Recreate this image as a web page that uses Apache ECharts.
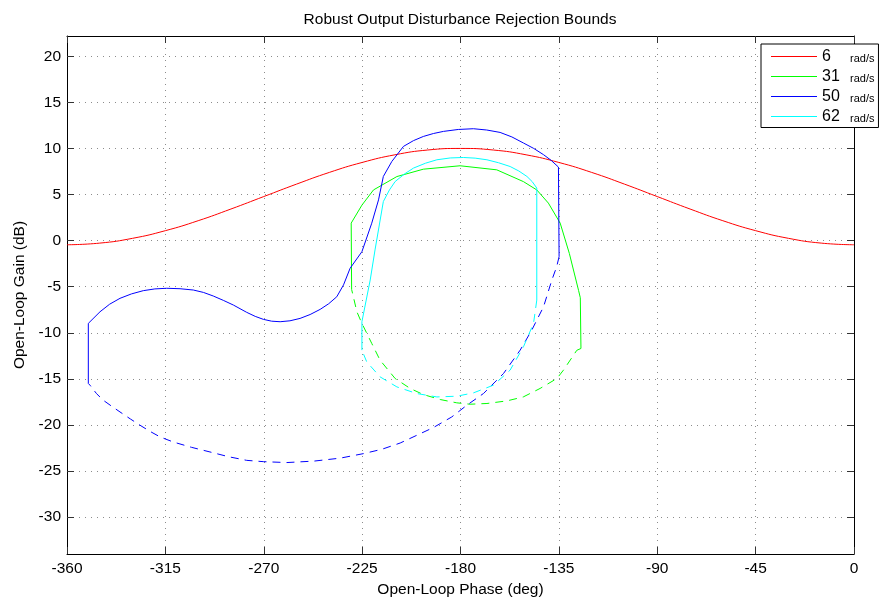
<!DOCTYPE html>
<html>
<head>
<meta charset="utf-8">
<script src="https://cdn.jsdelivr.net/npm/echarts@6/dist/echarts.min.js"></script>
<style>html,body{margin:0;padding:0;background:#fff;}#c{width:880px;height:598px;}</style>
</head>
<body>
<div id="c"></div>
<script>
// ---- data ----
const legendNames = ['6', '31', '50', '62'];
const xTicks = [-360, -315, -270, -225, -180, -135, -90, -45, 0];
const yTicks = [-30, -25, -20, -15, -10, -5, 0, 5, 10, 15, 20];

// 6 rad/s bound (phase, gain)
const red6 = [[-360,-0.45],[-345,-0.27],[-330,0.25],[-315,1.08],[-300,2.16],[-285,3.43],[-270,4.78],[-255,6.13],[-240,7.40],[-225,8.48],[-210,9.31],[-195,9.83],[-180,10.0],[-165,9.83],[-150,9.31],[-135,8.48],[-120,7.40],[-105,6.13],[-90,4.78],[-75,3.43],[-60,2.16],[-45,1.08],[-30,0.25],[-15,-0.27],[0,-0.45]];

// 31 rad/s bound
const green31Solid = [[-229.8,-5.3],[-230.0,1.9],[-225.1,3.85],[-219.8,5.5],[-209.1,6.95],[-197,7.75],[-180.2,8.12],[-163.4,7.68],[-151.2,6.4],[-145.1,5.5],[-139.8,4.07],[-134.4,1.9],[-130.2,-1.4],[-126,-5.4],[-125.2,-6.2],[-124.9,-11.7]];
const green31Dash = [[-124.9,-11.7],[-126.8,-11.9],[-132.9,-14.05],[-135.9,-14.96],[-143.6,-16.04],[-151.3,-16.96],[-158.8,-17.39],[-167.9,-17.67],[-175.6,-17.75],[-181.7,-17.6],[-189.3,-17.24],[-197,-16.7],[-203,-16.04],[-209.9,-14.96],[-216.8,-12.97],[-220.6,-11.15],[-225.1,-8.98],[-227.4,-7.72],[-229.8,-5.3]];

// 50 rad/s bound
const blue50Solid = [[-350.25,-15.5],[-350.25,-8.98],[-344.9,-7.72],[-340.5,-6.9],[-335.75,-6.26],[-330.5,-5.78],[-325.1,-5.43],[-319.8,-5.24],[-314.4,-5.17],[-308.3,-5.22],[-302.2,-5.36],[-297.6,-5.62],[-293.1,-6.01],[-288.5,-6.48],[-283.9,-6.99],[-277.8,-7.78],[-273.9,-8.22],[-270.2,-8.54],[-266.4,-8.74],[-262.5,-8.8],[-258,-8.7],[-253.4,-8.44],[-248.8,-8.02],[-244.2,-7.46],[-240.3,-6.85],[-236.6,-6.09],[-233.5,-4.8],[-230.5,-3.0],[-225.1,-1.2],[-220.6,1.89],[-217.5,4.42],[-215.3,6.96],[-211.4,8.59],[-206.1,10.22],[-201.5,10.85],[-197,11.3],[-192.4,11.62],[-187.8,11.85],[-181,12.06],[-174.1,12.14],[-168,12.0],[-161.9,11.74],[-156.5,11.25],[-151.2,10.59],[-146.5,10.0],[-142,9.32],[-138.5,8.7],[-135.2,7.98],[-134.9,-1.74]];
const blue50Dash = [[-134.9,-1.74],[-136,-2.83],[-138.2,-4.27],[-142,-7.17],[-147.4,-9.71],[-152.7,-11.88],[-160.3,-14.41],[-169.5,-16.59],[-177.1,-17.86],[-184,-19.13],[-192.4,-20.28],[-200,-21.12],[-207.6,-21.96],[-216,-22.64],[-224.4,-23.11],[-235,-23.6],[-247,-23.92],[-259.5,-24.08],[-270.2,-23.98],[-277.8,-23.84],[-286,-23.45],[-294.6,-22.93],[-303,-22.43],[-311.4,-21.85],[-317.4,-21.3],[-322,-20.7],[-326.6,-20.03],[-331,-19.35],[-335.75,-18.59],[-339.5,-17.98],[-343.4,-17.32],[-346.5,-16.6],[-349.5,-15.68],[-350.25,-15.5]];

// 62 rad/s bound
const cyan62Solid = [[-225.1,-11.88],[-225.1,-8.8],[-221.3,-4.27],[-219.1,-1.01],[-215.3,4.24],[-212.5,5.5],[-209.9,6.41],[-205.5,7.25],[-201.5,7.87],[-196,8.4],[-190.8,8.77],[-184.7,8.97],[-178.7,9.02],[-173.3,8.95],[-167.9,8.77],[-162.6,8.45],[-157.3,8.04],[-153.3,7.55],[-149.6,6.96],[-147.2,6.4],[-145.1,5.7],[-145.1,-6.45]];
const cyan62Dash = [[-145.1,-6.45],[-146.6,-8.98],[-151.2,-11.52],[-157.3,-14.05],[-164.9,-15.68],[-174.1,-16.52],[-181.7,-16.88],[-190.8,-16.96],[-200,-16.59],[-209.1,-15.87],[-216.8,-14.78],[-222.9,-13.15],[-225.1,-11.88]];

// ---- chart ----
const FONT = '"Liberation Sans", Arial, Helvetica, sans-serif';
const chart = echarts.init(document.getElementById('c'), null, {renderer: 'canvas'});
const gridLine = {show: true, lineStyle: {color: '#8c8c8c', width: 1, type: [1, 5]}};
const DASH = [8, 6];
function ln(name, data, color, dashed, smooth) {
  return {
    type: 'line', name: name, data: data, symbol: 'none', showSymbol: false,
    smooth: smooth || false,
    lineStyle: {color: color, width: 1, type: dashed ? DASH : 'solid'},
    itemStyle: {color: color}, silent: true, animation: false, clip: true
  };
}
chart.setOption({
  animation: false,
  textStyle: {fontFamily: FONT},
  title: {
    text: 'Robust Output Disturbance Rejection Bounds',
    left: 460, top: 12, textAlign: 'center', padding: 0,
    textStyle: {fontSize: 15.5, fontWeight: 'normal', color: '#000', fontFamily: FONT}
  },
  grid: {left: 67, right: 26, top: 36, bottom: 44, containLabel: false, outerBoundsMode: 'none'},
  legend: {
    data: legendNames.map(function (n) { return {name: n, icon: 'rect'}; }),
    orient: 'vertical', left: 761, top: 44,
    itemWidth: 46, itemHeight: 1, itemGap: 4,
    padding: [4.5, 4, 3, 10],
    backgroundColor: '#fff', borderColor: '#000', borderWidth: 1,
    selectedMode: false,
    formatter: function (n) { return '{n|' + n + '}{u|rad/s}'; },
    textStyle: {
      fontFamily: FONT,
      rich: {
        n: {fontSize: 16, width: 28, lineHeight: 16, color: '#000', fontFamily: FONT},
        u: {fontSize: 11, lineHeight: 12, verticalAlign: 'bottom', color: '#000', fontFamily: FONT}
      }
    }
  },
  xAxis: [{
    type: 'value', position: 'bottom', min: -360, max: 0, interval: 45,
    name: 'Open-Loop Phase (deg)', nameLocation: 'middle', nameGap: 25,
    nameTextStyle: {fontSize: 15.5, color: '#000', fontFamily: FONT},
    axisLine: {show: true, onZero: false, lineStyle: {color: '#000', width: 1}},
    axisTick: {show: true, inside: true, length: 7, lineStyle: {color: '#333'}},
    axisLabel: {show: true, margin: 7, fontSize: 15.5, color: '#000', fontFamily: FONT},
    splitLine: gridLine
  }, {
    type: 'value', position: 'top', min: -360, max: 0, interval: 45,
    axisLine: {show: true, onZero: false, lineStyle: {color: '#000', width: 1}},
    axisTick: {show: true, inside: true, length: 7, lineStyle: {color: '#333'}},
    axisLabel: {show: false}, splitLine: {show: false}
  }],
  yAxis: [{
    type: 'value', position: 'left', min: -34, max: 22.2,
    name: 'Open-Loop Gain (dB)', nameLocation: 'middle', nameGap: 38,
    nameTextStyle: {fontSize: 15.5, color: '#000', fontFamily: FONT},
    axisLine: {show: true, onZero: false, lineStyle: {color: '#000', width: 1}},
    axisTick: {show: true, inside: true, length: 7, customValues: yTicks, lineStyle: {color: '#333'}},
    axisLabel: {show: true, margin: 6, customValues: yTicks, fontSize: 15.5, color: '#000', fontFamily: FONT},
    splitLine: gridLine
  }, {
    type: 'value', position: 'right', min: -34, max: 22.2,
    axisLine: {show: true, onZero: false, lineStyle: {color: '#000', width: 1}},
    axisTick: {show: true, inside: true, length: 7, customValues: yTicks, lineStyle: {color: '#333'}},
    axisLabel: {show: false}, splitLine: {show: false}
  }],
  series: [
    ln('6', red6, '#ff0000', false, true),
    ln('31', green31Solid, '#00ff00', false),
    ln('31', green31Dash, '#00ff00', true),
    ln('50', blue50Solid, '#0000ff', false),
    ln('50', blue50Dash, '#0000ff', true),
    ln('62', cyan62Solid, '#00ffff', false),
    ln('62', cyan62Dash, '#00ffff', true)
  ]
});
</script>
</body>
</html>
